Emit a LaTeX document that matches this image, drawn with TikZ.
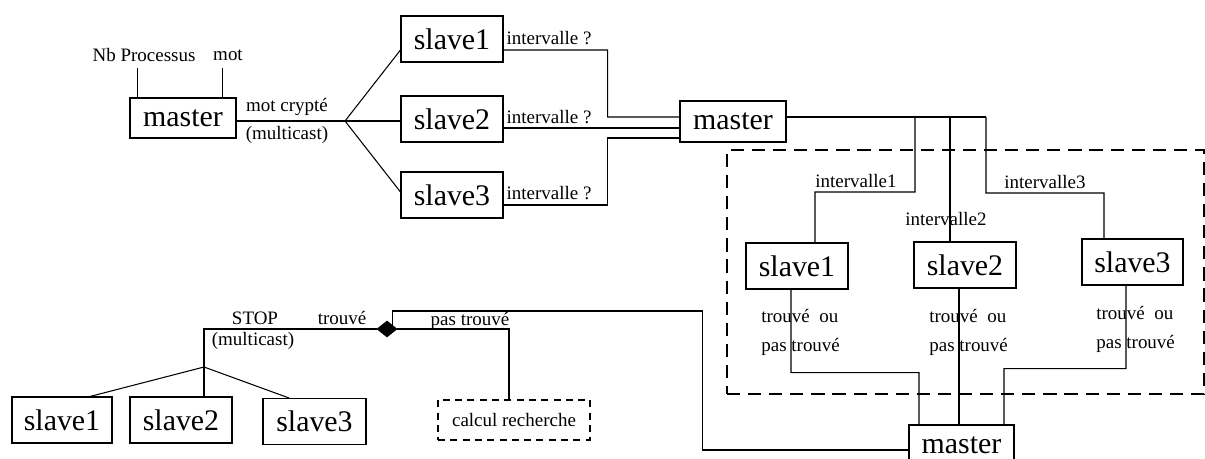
\documentclass[tikz,border=0pt]{standalone}
\usepackage{fontspec}
\setmainfont{Liberation Serif}
\usetikzlibrary{shapes.geometric,positioning}

\begin{document}
\begin{tikzpicture}[
    proc/.style={draw, line width=0.6pt, inner sep=0pt, minimum width=2.04cm,
                 minimum height=0.92cm, font=\fontsize{17}{17}\selectfont},
    lbl/.style={font=\fontsize{10.8}{16.5}\selectfont, inner sep=0pt, align=left},
    conn/.style={-, line width=0.6pt},
    region/.style={draw, line width=0.6pt, dash pattern=on 7.5pt off 4.5pt, inner sep=0pt},
    task/.style={draw, line width=0.6pt, dash pattern=on 4pt off 3pt, inner sep=0pt,
                 minimum width=3.04cm, minimum height=0.8cm, font=\fontsize{10.8}{13}\selectfont},
    junc/.style={diamond, draw, fill=black, inner sep=0pt, minimum width=0.4cm, minimum height=0.32cm}
]
\useasboundingbox (0,0) rectangle (24.1,-9.18);

% --- phase 1: master sends the word ---
\node[proc, minimum width=2.12cm, minimum height=0.8cm] (master1) at (3.66,-2.36) {master};
\node[lbl] (nbproc) at (2.88,-1.10) {Nb Processus};
\node[lbl] (motin)  at (4.56,-1.10) {mot};
\draw[conn] ([xshift=0.16cm]master1.north west) -- ++(0,0.58);
\draw[conn] ([xshift=-0.28cm]master1.north east) -- ++(0,0.58);

\coordinate (bA) at (6.90,-2.42);
\draw[conn] (master1.east |- bA) -- (bA);
\node[lbl] (crypt) at (5.74,-2.14) {mot crypté};
\node[lbl] (multiA) at (5.74,-2.70) {(multicast)};

\node[proc] (slaveA1) at (9.04,-0.78) {slave1};
\node[proc] (slaveA2) at (9.04,-2.38) {slave2};
\node[proc] (slaveA3) at (9.04,-3.90) {slave3};

\draw[conn] (bA) -- ([yshift=-0.22cm]slaveA1.west);
\draw[conn] (bA) -- (bA -| slaveA2.west);
\draw[conn] (bA) -- ([yshift=0.06cm]slaveA3.west);

% --- phase 2: slaves ask for an interval ---
\node[proc, minimum width=2.12cm, minimum height=0.82cm] (master2) at (14.66,-2.43) {master};

\draw[conn] ([yshift=-0.22cm]slaveA1.east) -| ++(2.08,-1.34) -- ([yshift=0.09cm]master2.west);
\draw[conn] ([yshift=-0.18cm]slaveA2.east) -- ([yshift=-0.13cm]master2.west -| slaveA2.east)
            -- ([yshift=-0.13cm]master2.west);
\draw[conn] ([yshift=-0.20cm]slaveA3.east) -| ++(2.08,1.34) -- ([yshift=-0.33cm]master2.west);

\node[lbl] (askA1) at (10.98,-0.76) {intervalle ?};
\node[lbl] (askA2) at (10.98,-2.34) {intervalle ?};
\node[lbl] (askA3) at (10.98,-3.86) {intervalle ?};

% --- phase 3: search on each interval ---
\node[region, minimum width=9.54cm, minimum height=4.88cm] (grp) at (19.31,-5.44) {};

\node[proc] (slaveB1) at (15.94,-5.32) {slave1};
\node[proc] (slaveB2) at (19.30,-5.30) {slave2};
\node[proc, minimum width=2.02cm] (slaveB3) at (22.65,-5.24) {slave3};

\coordinate (j1) at (18.30,-2.34);
\coordinate (j2) at (19.00,-2.34);
\coordinate (j3) at (19.72,-2.34);
\draw[conn] ([yshift=0.09cm]master2.east) -- (j3);
\draw[conn] (j1) |- ++(-2.0,-1.5) -- ([xshift=0.36cm]slaveB1.north);
\draw[conn] (j2) -- (j2 |- slaveB2.north);
\draw[conn] (j3) |- ++(2.36,-1.52) -- ([xshift=-0.57cm]slaveB3.north);

\node[lbl] (ivB1) at (17.12,-3.62) {intervalle1};
\node[lbl] (ivB2) at (18.92,-4.38) {intervalle2};
\node[lbl] (ivB3) at (20.90,-3.64) {intervalle3};

\node[proc, minimum width=2.10cm, minimum height=0.82cm] (master3) at (19.23,-8.91) {master};

\draw[conn] ([xshift=-0.12cm]slaveB1.south) |- ++(2.56,-1.66) -- ([xshift=-0.85cm]master3.north);
\draw[conn] ([xshift=-0.12cm]slaveB2.south) -- ([xshift=-0.12cm]master3.north -| slaveB2.south);
\draw[conn] ([xshift=-0.13cm]slaveB3.south) |- ++(-2.44,-1.66) -- ([xshift=0.85cm]master3.north);

\node[lbl, anchor=west] (resB1) at (15.22,-6.65) {trouvé\ \ ou\\pas trouvé};
\node[lbl, anchor=west] (resB2) at (18.58,-6.64) {trouvé\ \ ou\\pas trouvé};
\node[lbl, anchor=west] (resB3) at (21.92,-6.58) {trouvé\ \ ou\\pas trouvé};

% --- phase 4: result back to the master ---
\node[junc] (dm) at (7.74,-6.58) {};
\draw[conn] ([yshift=-0.09cm]master3.west) -| ++(-4.12,2.78) -| (dm.north east);

\node[task] (calc) at (10.28,-8.40) {calcul recherche};
\draw[conn] (dm.east) -| ([xshift=-0.1cm]calc.north);
\node[lbl] (notfound) at (9.40,-6.42) {pas trouvé};

\coordinate (bC) at (4.08,-7.34);
\draw[conn] (dm.west) -| (bC);
\node[lbl] (stop)   at (5.10,-6.36) {STOP};
\node[lbl] (found)  at (6.84,-6.36) {trouvé};
\node[lbl] (multiC) at (5.06,-6.82) {(multicast)};

\node[proc, minimum width=2.0cm] (slaveC1) at (1.24,-8.40) {slave1};
\node[proc] (slaveC2) at (3.62,-8.40) {slave2};
\node[proc, minimum width=2.06cm] (slaveC3) at (6.29,-8.43) {slave3};

\draw[conn] (bC) -- ([xshift=0.56cm]slaveC1.north);
\draw[conn] (bC) -- ([xshift=0.46cm]slaveC2.north);
\draw[conn] (bC) -- ([xshift=-0.51cm]slaveC3.north);

\end{tikzpicture}
\end{document}
